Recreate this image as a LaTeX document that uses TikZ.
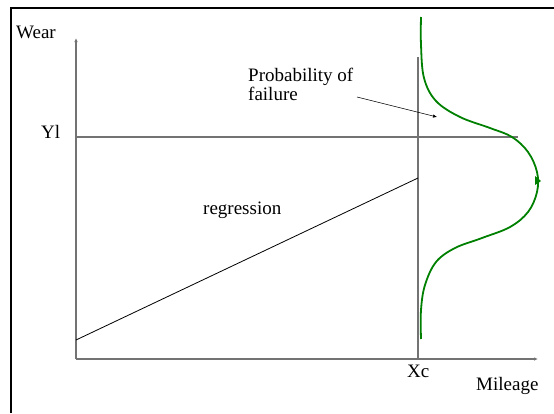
\documentclass[tikz,border=0pt]{standalone}
\usepackage{fontspec}
\setmainfont{Liberation Serif}
\usetikzlibrary{arrows.meta}
\begin{document}
\begin{tikzpicture}[x=1pt,y=-1pt,
  lbl/.style={inner sep=0pt,anchor=base west,font=\fontsize{19}{22}\selectfont},
  axis/.style={draw=black!55,line width=1.4pt},
  frame/.style={draw=black,line width=1.6pt},
  thin/.style={draw=black,line width=0.8pt},
  pdf/.style={draw=green!50!black,line width=1.8pt}]
\useasboundingbox (0,0) rectangle (554,413);
% frame
\draw[frame] (11,413) -- (11,8) -- (554,8);
% coordinates
\coordinate (O) at (76,359);
\coordinate (ytop) at (76,38);
\coordinate (xend) at (538,359);
\coordinate (ylstart) at (76,137);
\coordinate (ylend) at (518,137);
\coordinate (xctop) at (418,57);
\coordinate (xcbot) at (418,359);
\coordinate (rstart) at (76,340);
\coordinate (rend) at (418,178);
\coordinate (astart) at (357,97);
\coordinate (aend) at (437,117);
% axes
\draw[axis,-{Latex[length=4pt,width=3.5pt]}] (O) -- (ytop);
\draw[axis,-{Latex[length=4pt,width=3.5pt]}] (O) -- (xend);
\draw[axis] (ylstart) -- (ylend);
\draw[axis] (xcbot) -- (xctop);
% regression
\draw[thin] (rstart) -- (rend);
% annotation arrow
\draw[thin,line width=0.6pt,-{Latex[length=4pt,width=3.5pt]}] (astart) -- (aend);
% distribution curve
\draw[pdf] plot[smooth,tension=0.6] coordinates {(421,17) (421,45) (424,78) (436,101) (460,117) (490,128) (512,137) (528,152) (537,172) (537,192) (528,212) (510,227) (482,238) (455,248) (436,262) (425,285) (421,310) (421,339)};
\fill[green!50!black] (535,176) -- (541,181) -- (535,185) -- cycle;
% labels
\node[lbl] (wear) at (16,38) {Wear};
\node[lbl] (yl) at (41,138) {Yl};
\node[lbl,align=left,font=\fontsize{19}{16}\selectfont] (prob) at (248,100) {Probability of\\failure};
\node[lbl] (reg) at (203,214) {regression};
\node[lbl] (xc) at (407,377) {Xc};
\node[lbl] (mil) at (476,390) {Mileage};
\end{tikzpicture}
\end{document}
